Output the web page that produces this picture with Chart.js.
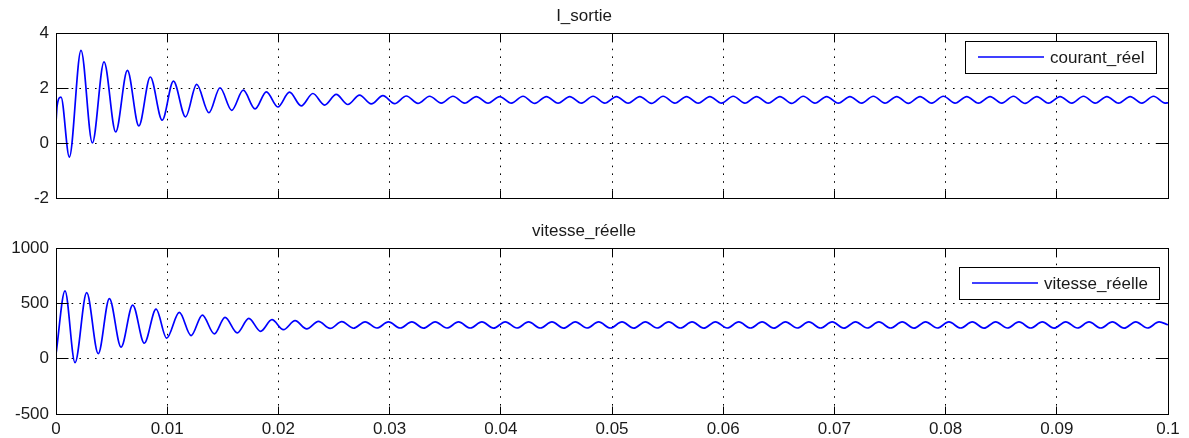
<!DOCTYPE html>
<html>
<head>
<meta charset="utf-8">
<title>I_sortie / vitesse_réelle</title>
<script src="https://cdn.jsdelivr.net/npm/chart.js@4.4.1/dist/chart.umd.min.js"></script>
<style>
  html, body { margin: 0; padding: 0; background: #fff; }
  canvas { display: block; }
</style>
</head>
<body>
<canvas id="courantChart" width="1189" height="219"></canvas>
<canvas id="vitesseChart" width="1189" height="219"></canvas>
<script>
// x axis (time, s)
const xTickValues = [0, 0.01, 0.02, 0.03, 0.04, 0.05, 0.06, 0.07, 0.08, 0.09, 0.1];
const xTickLabels = ['0', '0.01', '0.02', '0.03', '0.04', '0.05', '0.06', '0.07', '0.08', '0.09', '0.1'];

// top plot: I_sortie
const courantTicks = [-2, 0, 2, 4];
const courantLabels = ['-2', '0', '2', '4'];
// peaks / troughs
const courantTime = [
  0, 0.0001, 0.00045, 0.0012, 0.00225, 0.00327, 0.00432, 0.00537, 0.00642, 0.00745,
  0.00848, 0.00955, 0.01056, 0.01165, 0.01265, 0.01375, 0.01475, 0.0158, 0.01684, 0.0179,
  0.01892, 0.01995, 0.021, 0.02205, 0.0231, 0.02415, 0.0252, 0.02625, 0.0273, 0.02835,
  0.0294, 0.03045, 0.0315, 0.03255, 0.0336, 0.03465, 0.0357, 0.03675, 0.0378, 0.03885,
  0.0399, 0.04095, 0.042, 0.04305, 0.0441, 0.04515, 0.0462, 0.04725, 0.0483, 0.04935,
  0.0504, 0.05145, 0.0525, 0.05355, 0.0546, 0.05565, 0.0567, 0.05775, 0.0588, 0.05985,
  0.0609, 0.06195, 0.063, 0.06405, 0.0651, 0.06615, 0.0672, 0.06825, 0.0693, 0.07035,
  0.0714, 0.07245, 0.0735, 0.07455, 0.0756, 0.07665, 0.0777, 0.07875, 0.0798, 0.08085,
  0.0819, 0.08295, 0.084, 0.08505, 0.0861, 0.08715, 0.0882, 0.08925, 0.0903, 0.09135,
  0.0924, 0.09345, 0.0945, 0.09555, 0.0966, 0.09765, 0.0987, 0.09975, 0.1
];
const courantValue = [
  0.75, 1.35, 1.67, -0.51, 3.37, 0.00, 2.95, 0.40, 2.64, 0.62,
  2.40, 0.83, 2.25, 0.95, 2.13, 1.10, 2.01, 1.19, 1.92, 1.24,
  1.86, 1.31, 1.85, 1.35, 1.80, 1.38, 1.77, 1.40, 1.74, 1.42,
  1.72, 1.43, 1.71, 1.44, 1.70, 1.45, 1.70, 1.45, 1.69, 1.45,
  1.69, 1.45, 1.70, 1.44, 1.69, 1.45, 1.69, 1.45, 1.70, 1.45,
  1.69, 1.45, 1.69, 1.44, 1.70, 1.45, 1.69, 1.45, 1.69, 1.45,
  1.70, 1.45, 1.69, 1.45, 1.69, 1.44, 1.70, 1.45, 1.69, 1.45,
  1.69, 1.45, 1.70, 1.45, 1.69, 1.44, 1.69, 1.45, 1.70, 1.45,
  1.69, 1.45, 1.69, 1.45, 1.70, 1.44, 1.69, 1.45, 1.69, 1.45,
  1.70, 1.45, 1.69, 1.45, 1.69, 1.45, 1.70, 1.45, 1.46
];

// bottom plot: vitesse_réelle
const vitesseTicks = [-500, 0, 500, 1000];
const vitesseLabels = ['-500', '0', '500', '1000'];
const vitesseTime = [
  0, 0.00081, 0.00171, 0.00276, 0.0038, 0.0048, 0.00585, 0.0069, 0.00794, 0.009,
  0.00995, 0.01109, 0.01215, 0.01316, 0.01424, 0.0152, 0.0163, 0.01734, 0.0184, 0.01942,
  0.02045, 0.0215, 0.02255, 0.0236, 0.02465, 0.0257, 0.02675, 0.0278, 0.02885, 0.0299,
  0.03095, 0.032, 0.03305, 0.0341, 0.03515, 0.0362, 0.03725, 0.0383, 0.03935, 0.0404,
  0.04145, 0.0425, 0.04355, 0.0446, 0.04565, 0.0467, 0.04775, 0.0488, 0.04985, 0.0509,
  0.05195, 0.053, 0.05405, 0.0551, 0.05615, 0.0572, 0.05825, 0.0593, 0.06035, 0.0614,
  0.06245, 0.0635, 0.06455, 0.0656, 0.06665, 0.0677, 0.06875, 0.0698, 0.07085, 0.0719,
  0.07295, 0.074, 0.07505, 0.0761, 0.07715, 0.0782, 0.07925, 0.0803, 0.08135, 0.0824,
  0.08345, 0.0845, 0.08555, 0.0866, 0.08765, 0.0887, 0.08975, 0.0908, 0.09185, 0.0929,
  0.09395, 0.095, 0.09605, 0.0971, 0.09815, 0.0992, 0.1
];
const vitesseValue = [
  40, 612, -36, 597, 45, 543, 104, 484, 140, 448,
  185, 418, 209, 394, 224, 373, 233, 364, 247, 352,
  262, 343, 269, 337, 273, 334, 275, 333, 277, 332,
  277, 332, 276, 333, 277, 332, 277, 332, 276, 333,
  277, 332, 277, 332, 276, 333, 277, 332, 277, 332,
  276, 333, 277, 332, 277, 332, 276, 333, 277, 332,
  277, 332, 276, 333, 277, 332, 277, 332, 276, 333,
  277, 332, 277, 332, 276, 333, 277, 332, 277, 332,
  276, 333, 277, 332, 277, 332, 276, 333, 277, 332,
  277, 332, 276, 333, 277, 332, 306
];

const FONT = '"Liberation Sans", Arial, Helvetica, sans-serif';
const TEXT_COLOR = '#1a1a1a';

function alignPx(p) {
  return Math.round(p - 0.5) + 0.5;
}

// box round the axes + inward tick marks, matlab style
const matlabAxes = {
  id: 'matlabAxes',
  afterDatasetsDraw(chart) {
    const { ctx, chartArea: a } = chart;
    const x = chart.scales.x, y = chart.scales.y;
    const L = alignPx(a.left), R = alignPx(a.right), T = alignPx(a.top), B = alignPx(a.bottom);
    ctx.save();
    ctx.strokeStyle = '#000';
    ctx.lineWidth = 1;
    ctx.setLineDash([]);
    ctx.beginPath();
    x.ticks.forEach(t => {
      const px = alignPx(x.getPixelForValue(t.value));
      ctx.moveTo(px, B); ctx.lineTo(px, B - 8);
      ctx.moveTo(px, T); ctx.lineTo(px, T + 8);
    });
    y.ticks.forEach(t => {
      const py = alignPx(y.getPixelForValue(t.value));
      ctx.moveTo(L, py); ctx.lineTo(L + 12, py);
      ctx.moveTo(R, py); ctx.lineTo(R - 12, py);
    });
    ctx.stroke();
    ctx.strokeRect(L, T, R - L, B - T);
    ctx.restore();
  }
};

// legend in a black box inside the axes (top right)
const boxLegend = {
  id: 'boxLegend',
  afterDraw(chart, args, opts) {
    const { ctx, chartArea: a } = chart;
    const ds = chart.data.datasets[0];
    ctx.save();
    ctx.font = '17px ' + FONT;
    const textW = ctx.measureText(ds.label).width;
    const w = Math.round(13 + 66 + 6 + textW + 11);
    const h = 32;
    const left = Math.round(a.right - opts.right - w);
    const top = Math.round(a.top + opts.top);
    ctx.fillStyle = '#fff';
    ctx.fillRect(left, top, w, h);
    ctx.strokeStyle = '#000';
    ctx.lineWidth = 1;
    ctx.strokeRect(left + 0.5, top + 0.5, w, h);
    ctx.strokeStyle = ds.borderColor;
    ctx.lineWidth = 1.5;
    ctx.beginPath();
    ctx.moveTo(left + 13, top + h / 2);
    ctx.lineTo(left + 79, top + h / 2);
    ctx.stroke();
    ctx.fillStyle = TEXT_COLOR;
    ctx.textBaseline = 'middle';
    ctx.textAlign = 'left';
    ctx.fillText(ds.label, left + 85, top + h / 2 + 1);
    ctx.restore();
  }
};

function buildChart(id, o) {
  const ctx = document.getElementById(id).getContext('2d');
  return new Chart(ctx, {
    type: 'line',
    data: {
      datasets: [{
        label: o.label,
        data: o.times.map((t, i) => ({ x: t, y: o.values[i] })),
        borderColor: '#0000ff',
        borderWidth: 1.7,
        pointRadius: 0,
        cubicInterpolationMode: 'monotone',
        fill: false
      }]
    },
    options: {
      responsive: false,
      animation: false,
      events: [],
      layout: { padding: { top: 0, right: 21, bottom: 0, left: 0 } },
      plugins: {
        legend: { display: false },
        tooltip: { enabled: false },
        title: {
          display: true,
          text: o.title,
          color: TEXT_COLOR,
          font: { family: FONT, size: 17, weight: 'normal', lineHeight: '20px' },
          padding: { top: o.titleTop, bottom: o.titleBottom }
        },
        boxLegend: o.legend
      },
      scales: {
        x: {
          type: 'linear',
          min: 0,
          max: 0.1,
          afterBuildTicks: s => { s.ticks = xTickValues.map(v => ({ value: v })); },
          afterFit: s => { s.height = o.xAxisHeight; },
          ticks: {
            display: o.showX,
            padding: 5,
            color: TEXT_COLOR,
            font: { family: FONT, size: 17 },
            maxRotation: 0,
            autoSkip: false,
            callback: (v, i) => xTickLabels[i]
          },
          grid: { color: '#000', lineWidth: 1, drawTicks: false },
          border: { display: false, dash: [1.6, 6.2] }
        },
        y: {
          type: 'linear',
          min: o.yTicks[0],
          max: o.yTicks[o.yTicks.length - 1],
          afterBuildTicks: s => { s.ticks = o.yTicks.map(v => ({ value: v })); },
          afterFit: s => { s.width = 56; },
          ticks: {
            padding: 7,
            color: TEXT_COLOR,
            font: { family: FONT, size: 17 },
            callback: (v, i) => o.yLabels[i]
          },
          grid: { color: '#000', lineWidth: 1, drawTicks: false },
          border: { display: false, dash: [1.6, 6.2] }
        }
      }
    },
    plugins: [matlabAxes, boxLegend]
  });
}

buildChart('courantChart', {
  title: 'I_sortie',
  label: 'courant_réel',
  times: courantTime,
  values: courantValue,
  yTicks: courantTicks,
  yLabels: courantLabels,
  showX: false,
  xAxisHeight: 21,
  titleTop: 6,
  titleBottom: 7,
  legend: { right: 12, top: 8 }
});

buildChart('vitesseChart', {
  title: 'vitesse_réelle',
  label: 'vitesse_réelle',
  times: vitesseTime,
  values: vitesseValue,
  yTicks: vitesseTicks,
  yLabels: vitesseLabels,
  showX: true,
  xAxisHeight: 24,
  titleTop: 2,
  titleBottom: 7,
  legend: { right: 9, top: 19 }
});
</script>
</body>
</html>
